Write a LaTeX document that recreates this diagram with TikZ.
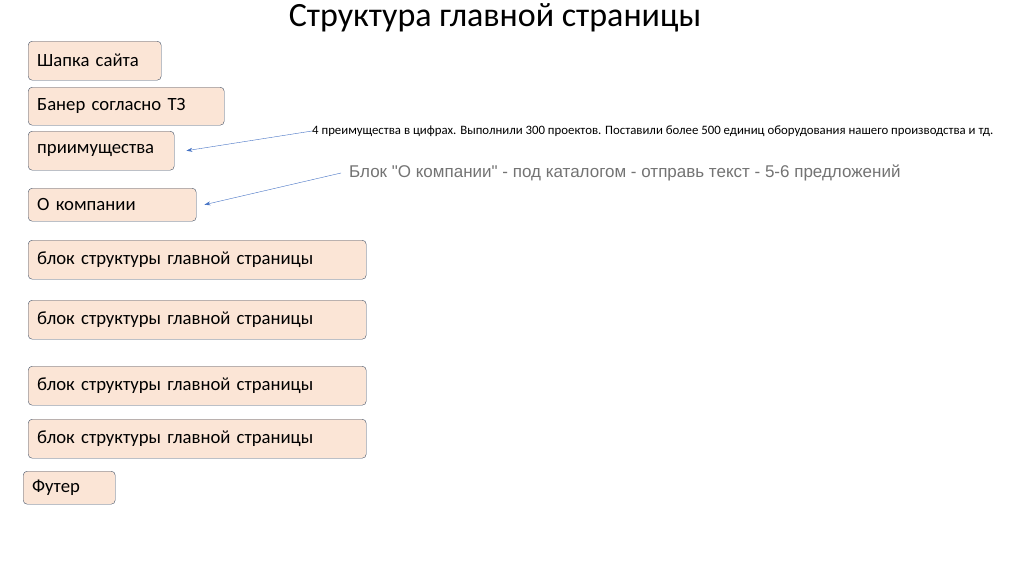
\documentclass[tikz,border=0pt]{standalone}
\usepackage{fontspec}
\setmainfont{Carlito}
\newfontfamily\notefont{Liberation Sans}[Ligatures=ResetAll]
\usetikzlibrary{arrows.meta}
\definecolor{boxfill}{HTML}{FBE5D6}
\definecolor{boxline}{HTML}{44546A}
\definecolor{arrowblue}{HTML}{4472C4}
\tikzset{blok/.style={draw=boxline,fill=boxfill,rounded corners=4pt,anchor=north west,inner xsep=9pt,inner ysep=0pt,align=left,font=\fontsize{18.7}{22}\selectfont}}
\tikzset{note/.style={anchor=west,inner sep=0pt}}
\tikzset{pointer/.style={draw=arrowblue,-{Stealth[length=6pt,width=4pt]}}}
\begin{document}
\begin{tikzpicture}[x=1pt,y=-1pt]
\useasboundingbox (0,0) rectangle (1024,574);

\node (title) at (495,18) {\fontsize{34}{38}\selectfont Структура главной страницы};

\foreach \name/\x/\y/\w/\h/\txt in {
	shapka/28/41/133/39/{Шапка сайта},
	baner/28/87/196/38/{Банер согласно ТЗ},
	preim/28/131/146/39/{приимущества},
	kompan/28/188/168/33/{О компании},
	blokA/28/240/338/39/{блок структуры главной страницы},
	blokB/28/300/338/39/{блок структуры главной страницы},
	blokC/28/366/338/39/{блок структуры главной страницы},
	blokD/28/419/338/39/{блок структуры главной страницы},
	futer/23/471/92/33/{Футер}} {
	\node (\name) at (\x,\y) [blok,minimum height=\h,text width=\w-18] {\txt};
}

\node (noteA) at (312,131) [note] {\fontsize{12.8}{14}\selectfont 4 преимущества в цифрах. Выполнили 300 проектов. Поставили более 500 единиц оборудования нашего производства и тд.};
\node (noteB) at (349,173) [note,text=black!55] {\notefont\fontsize{17}{20}\selectfont Блок "О компании" - под каталогом - отправь текст - 5-6 предложений};

\draw[pointer] (noteA.west) -- ([xshift=12pt]preim.east);
\draw[pointer] ([xshift=-8pt]noteB.west) -- ([xshift=8pt]kompan.east);

\end{tikzpicture}
\end{document}
